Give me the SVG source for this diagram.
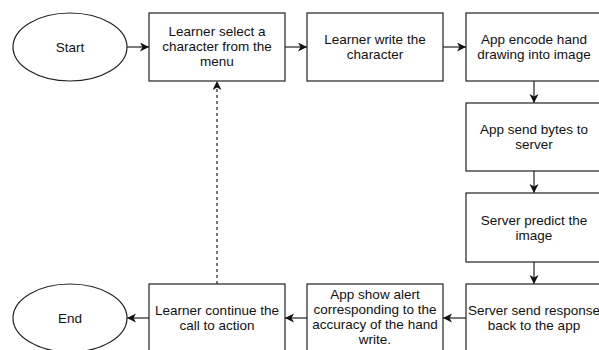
<svg xmlns="http://www.w3.org/2000/svg" width="599" height="350" viewBox="0 0 599 350">
<defs>
<style>
.n{fill:#fff;stroke:#222;stroke-width:1.2}
.t{font-family:"Liberation Sans",Arial,Helvetica,sans-serif;font-size:13.5px;fill:#111;text-anchor:middle}
.c{fill:none;stroke:#222;stroke-width:1.2}
.d{stroke-dasharray:3 3}
</style>
<marker id="ah" markerUnits="userSpaceOnUse" markerWidth="10" markerHeight="10" refX="9" refY="4.5" orient="auto">
<path d="M0,0 L9,4.5 L0,9 L2.5,4.5 Z" fill="#111"/>
</marker>
</defs>
<rect width="599" height="350" fill="#fff"/>
<g id="connectors">
<line class="c" x1="127" y1="47" x2="149" y2="47" marker-end="url(#ah)"/>
<line class="c" x1="285" y1="47" x2="307" y2="47" marker-end="url(#ah)"/>
<line class="c" x1="443" y1="47" x2="466" y2="47" marker-end="url(#ah)"/>
<line class="c" x1="534" y1="81" x2="534" y2="103" marker-end="url(#ah)"/>
<line class="c" x1="534" y1="171" x2="534" y2="193" marker-end="url(#ah)"/>
<line class="c" x1="534" y1="262" x2="534" y2="284" marker-end="url(#ah)"/>
<line class="c" x1="466" y1="318" x2="443" y2="318" marker-end="url(#ah)"/>
<line class="c" x1="307" y1="318" x2="285" y2="318" marker-end="url(#ah)"/>
<line class="c" x1="149" y1="318" x2="127" y2="318" marker-end="url(#ah)"/>
<line class="c d" x1="217" y1="284" x2="217" y2="81" marker-end="url(#ah)"/>
</g>
<g id="start">
<ellipse class="n" cx="70" cy="47" rx="57" ry="34"/>
<text class="t" x="70" y="52">Start</text>
</g>
<g id="select">
<rect class="n" x="149" y="13" width="136" height="68"/>
<text class="t" x="217" y="36">Learner select a</text>
<text class="t" x="217" y="51">character from the</text>
<text class="t" x="217" y="66">menu</text>
</g>
<g id="write">
<rect class="n" x="307" y="13" width="136" height="68"/>
<text class="t" x="375" y="44">Learner write the</text>
<text class="t" x="375" y="59">character</text>
</g>
<g id="encode">
<rect class="n" x="466" y="13" width="136" height="68"/>
<text class="t" x="534" y="44">App encode hand</text>
<text class="t" x="534" y="59">drawing into image</text>
</g>
<g id="send">
<rect class="n" x="466" y="103" width="136" height="68"/>
<text class="t" x="534" y="134">App send bytes to</text>
<text class="t" x="534" y="149">server</text>
</g>
<g id="predict">
<rect class="n" x="466" y="193" width="136" height="69"/>
<text class="t" x="534" y="225">Server predict the</text>
<text class="t" x="534" y="240">image</text>
</g>
<g id="response">
<rect class="n" x="466" y="284" width="136" height="68"/>
<text class="t" x="534" y="315">Server send response</text>
<text class="t" x="534" y="330">back to the app</text>
</g>
<g id="alert">
<rect class="n" x="307" y="284" width="136" height="68"/>
<text class="t" x="375" y="299">App show alert</text>
<text class="t" x="375" y="314">corresponding to the</text>
<text class="t" x="375" y="329">accuracy of the hand</text>
<text class="t" x="375" y="344">write.</text>
</g>
<g id="continue">
<rect class="n" x="149" y="284" width="136" height="68"/>
<text class="t" x="217" y="315">Learner continue the</text>
<text class="t" x="217" y="330">call to action</text>
</g>
<g id="end">
<ellipse class="n" cx="70" cy="318" rx="57" ry="34"/>
<text class="t" x="70" y="323">End</text>
</g>
</svg>
